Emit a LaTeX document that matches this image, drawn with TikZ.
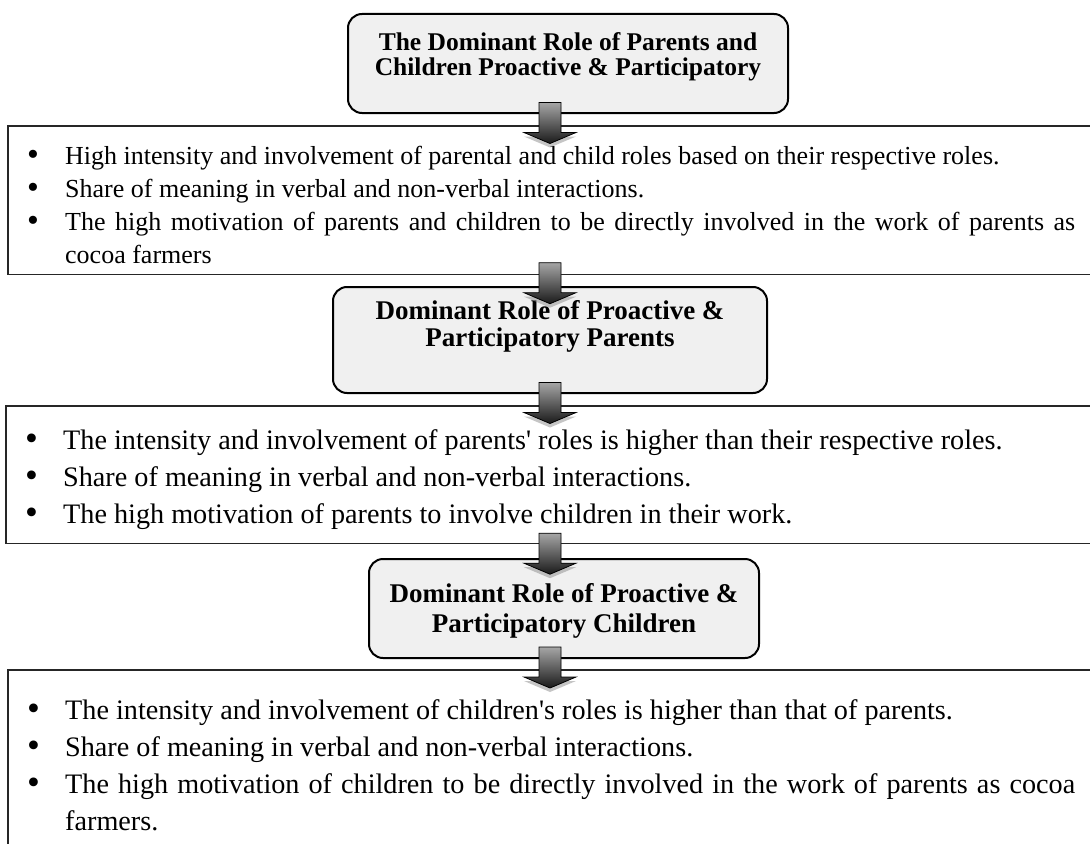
\documentclass[tikz,border=0pt]{standalone}
\usepackage{fontspec}
\setmainfont{Liberation Serif}
\usetikzlibrary{shadows,calc}
\hyphenpenalty=10000
\exhyphenpenalty=10000

% one bullet line of a list box
\newcommand{\point}[1]{\noindent\hangindent=57bp\hangafter=1\strut\hbox to 57bp{\hskip 19bp\raisebox{-1.5bp}{\scalebox{1.3}{\textbullet}}\hfil}#1\strut\par}

\begin{document}
\begin{tikzpicture}[x=1bp,y=-1bp,
  rolebox/.style={draw=black,line width=2bp,rounded corners=14bp,fill=black!6,inner sep=0},
  roletext/.style={align=center,inner sep=0,font=\bfseries\fontsize{27bp}{27bp}\selectfont},
  pointlist/.style={anchor=north west,inner sep=0,text width=1067bp,align=justify},
  pointframe/.style={draw=black!85,line width=1.6bp},
  downarrow/.style={draw=black,line width=0.8bp,line join=miter,top color=black!35,bottom color=black!90,
    drop shadow={shadow xshift=0bp,shadow yshift=-4bp,fill=black!45,opacity=0.5}}]
\clip (0,0) rectangle (1090,844);
\coordinate (axis) at (550,0);
\coordinate (edge) at (1130,0);

% Rounded Rect
\node[rolebox,minimum width=440bp,minimum height=99bp] (roleA) at (568,63.5) {};
% Text Node
\node[roletext,font=\bfseries\fontsize{25.5bp}{25bp}\selectfont] (roleAtext) at ([yshift=6.5bp]roleA.center) {The Dominant Role of Parents and\\Children Proactive \& Participatory};

% Bullet list
\node[pointlist,font=\fontsize{26bp}{33bp}\selectfont] (listA) at (8,141) {%
\point{High intensity and involvement of parental and child roles based on their respective roles.}
\point{Share of meaning in verbal and non-verbal interactions.}
\point{The high motivation of parents and children to be directly involved in the work of parents as\linebreak cocoa farmers}};
\coordinate (listAtop) at ([yshift=15bp]listA.north west);
\coordinate (listAbot) at ([yshift=-1bp]listA.south west);
\draw[pointframe] (listAtop) rectangle (listAbot -| edge);

% Rounded Rect
\node[rolebox,minimum width=434bp,minimum height=106bp] (roleB) at (550,340) {};
% Text Node
\node[roletext] (roleBtext) at ([yshift=14bp]roleB.center) {Dominant Role of Proactive \&\\Participatory Parents};

% Bullet list
\node[pointlist,font=\fontsize{28.2bp}{37bp}\selectfont] (listB) at (6,423) {%
\point{The intensity and involvement of parents\textquotesingle{} roles is higher than their respective roles.}
\point{Share of meaning in verbal and non-verbal interactions.}
\point{The high motivation of parents to involve children in their work.}};
\coordinate (listBtop) at ([yshift=17bp]listB.north west);
\coordinate (listBbot) at ([yshift=-9bp]listB.south west);
\draw[pointframe] (listBtop) rectangle (listBbot -| edge);

% Rounded Rect
\node[rolebox,minimum width=390bp,minimum height=99bp] (roleC) at (564,608.5) {};
% Text Node
\node[roletext,font=\bfseries\fontsize{27bp}{30bp}\selectfont] (roleCtext) at ([yshift=-2bp]roleC.center) {Dominant Role of Proactive \&\\Participatory Children};

% Bullet list
\node[pointlist,font=\fontsize{28.2bp}{37bp}\selectfont] (listC) at (8,693) {%
\point{The intensity and involvement of children\textquotesingle s roles is higher than that of parents.}
\point{Share of meaning in verbal and non-verbal interactions.}
\point{The high motivation of children to be directly involved in the work of parents as cocoa farmers.}};
\coordinate (listCtop) at ([yshift=23bp]listC.north west);
\coordinate (listCbot) at ([yshift=-10bp]listC.south west);
\draw[pointframe] (listCtop) rectangle (listCbot -| edge);

% Block arrows
\coordinate (arrowA) at ($(axis |- roleA.south)!0.5!(axis |- listAtop)$);
\coordinate (arrowB) at ($(axis |- listAbot)!0.5!(axis |- roleB.north)$);
\coordinate (arrowC) at ($(axis |- roleB.south)!0.5!(axis |- listBtop)$);
\coordinate (arrowD) at ($(axis |- listBbot)!0.5!(axis |- roleC.north)$);
\coordinate (arrowE) at ($(axis |- roleC.south)!0.5!(axis |- listCtop)$);
\foreach \a in {arrowA,arrowB,arrowC,arrowD,arrowE}
  \path[downarrow] ($(\a)+(-11,-17.5)$) -- ($(\a)+(11,-17.5)$) -- ($(\a)+(11,12.5)$) -- ($(\a)+(26,12.5)$)
    -- ($(\a)+(0,23.5)$) -- ($(\a)+(-26,12.5)$) -- ($(\a)+(-11,12.5)$) -- cycle;
\end{tikzpicture}
\end{document}
